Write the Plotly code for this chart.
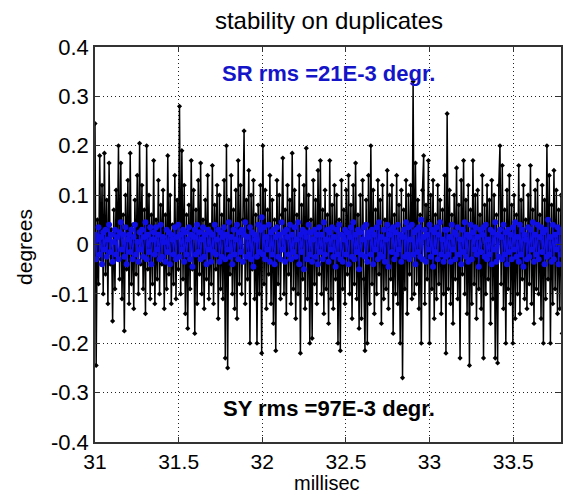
import numpy as np
import plotly.graph_objects as go

# ---- data ----
t_start_ms = 31.0
t_end_ms = 33.8

sy_values = [
    0.245, -0.245, 0.05, -0.08, 0.18, -0.03, 0.12, -0.1, 0.185, -0.06,
    0.09, -0.12, 0.165, -0.04, 0.03, -0.155, 0.07, -0.09, 0.11, -0.02,
    0.2, -0.07, 0.165, -0.11, 0.06, -0.175, 0.1, -0.05, 0.13, -0.12,
    0.185, -0.08, 0.04, -0.13, 0.09, -0.06, 0.14, -0.1, 0.205, -0.04,
    0.12, -0.09, 0.07, -0.14, 0.2, -0.05, 0.1, -0.11, 0.06, -0.08,
    0.17, -0.12, 0.05, -0.07, 0.13, -0.1, 0.08, -0.04, 0.11, -0.13,
    0.06, -0.09, 0.18, -0.06, 0.1, -0.12, 0.04, -0.08, 0.14, -0.11,
    0.09, -0.05, 0.28, -0.1, 0.19, -0.07, 0.12, -0.14, 0.06, -0.17,
    0.08, -0.09, 0.17, -0.05, 0.11, -0.18, 0.07, -0.12, 0.13, -0.06,
    0.165, -0.1, 0.05, -0.13, 0.09, -0.07, 0.14, -0.11, 0.04, -0.08,
    0.16, -0.12, 0.08, -0.05, 0.12, -0.15, 0.1, -0.09, 0.06, -0.11,
    0.13, -0.23, 0.2, -0.25, 0.09, -0.06, 0.14, -0.1, 0.07, -0.13,
    0.11, -0.15, 0.17, -0.08, 0.12, -0.1, 0.05, 0.23, -0.12, 0.09,
    -0.07, 0.15, -0.2, 0.1, -0.05, 0.13, -0.11, 0.06, -0.2, 0.08,
    -0.1, 0.12, -0.22, 0.2, -0.08, 0.11, -0.13, 0.07, -0.06, 0.14,
    -0.12, 0.09, -0.16, 0.05, -0.215, 0.13, -0.08, 0.1, -0.11, 0.06,
    0.175, -0.1, 0.07, -0.14, 0.12, -0.06, 0.09, -0.12, 0.185, -0.09,
    0.11, -0.15, 0.06, -0.1, 0.14, -0.22, 0.08, -0.07, 0.12, -0.13,
    0.195, -0.11, 0.1, -0.2, 0.05, -0.19, 0.13, -0.08, 0.09, -0.12,
    0.15, -0.06, 0.17, -0.1, 0.07, -0.14, 0.11, -0.09, 0.06, -0.16,
    0.17, -0.11, 0.08, -0.13, 0.12, -0.07, 0.1, -0.2, 0.05, -0.215,
    0.13, -0.09, 0.07, -0.12, 0.11, -0.06, 0.14, -0.1, 0.08, -0.15,
    0.12, -0.08, 0.165, -0.11, 0.06, -0.17, 0.1, -0.15, 0.13, -0.07,
    -0.215, 0.09, -0.2, 0.14, -0.12, 0.2, -0.08, 0.11, -0.14, 0.07,
    -0.1, 0.13, -0.06, 0.09, -0.16, 0.12, -0.11, 0.05, -0.09, 0.15,
    -0.13, 0.1, -0.07, 0.12, -0.18, 0.06, -0.1, 0.14, -0.12, 0.08,
    -0.2, 0.11, -0.27, 0.07, -0.09, 0.13, -0.14, 0.1, -0.06, 0.12,
    -0.11, 0.33, -0.1, 0.165, -0.08, 0.09, -0.13, 0.06, -0.2, 0.11,
    0.18, -0.12, 0.08, -0.07, 0.17, -0.2, 0.1, -0.09, 0.13, -0.15,
    0.06, -0.11, 0.12, -0.08, 0.09, -0.14, 0.07, -0.1, 0.14, -0.22,
    0.265, -0.09, 0.11, -0.12, 0.06, -0.16, 0.1, -0.07, 0.155, -0.11,
    0.08, -0.23, 0.13, -0.06, 0.17, -0.1, 0.09, -0.14, 0.12, -0.245,
    0.07, -0.12, 0.17, -0.08, 0.1, -0.15, 0.11, -0.09, 0.06, -0.13,
    0.14, -0.23, 0.08, -0.1, 0.12, -0.07, 0.09, -0.16, 0.13, -0.11,
    0.1, -0.23, 0.06, -0.24, 0.12, 0.2, -0.08, 0.16, -0.13, 0.07,
    -0.2, 0.11, -0.09, 0.14, -0.12, 0.08, -0.2, 0.1, -0.15, 0.06,
    -0.1, 0.16, -0.14, 0.09, -0.07, 0.12, -0.11, 0.05, -0.13, 0.1,
    -0.08, 0.16, -0.12, 0.07, -0.16, 0.11, -0.09, 0.13, -0.1, 0.06,
    -0.15, 0.12, -0.2, 0.09, -0.11, 0.2, -0.07, 0.14, -0.2, 0.08,
    -0.12, 0.15, -0.09, 0.11, -0.14, 0.07, -0.13, 0.1, -0.18, 0.09,
]

sr_values = [
    0.02, -0.03, 0.01, 0.035, -0.02, 0.015, -0.04, 0.025, -0.01, 0.03,
    -0.025, 0.01, 0.04, -0.015, 0.02, -0.035, 0.005, 0.03, -0.02, 0.015,
    -0.03, 0.025, 0.045, -0.01, 0.02, -0.025, 0.035, -0.04, 0.01, 0.02,
    -0.015, 0.03, -0.03, 0.015, 0.04, -0.02, 0.005, -0.035, 0.025, -0.01,
    0.03, -0.025, 0.015, 0.045, -0.03, 0.02, -0.015, 0.035, -0.04, 0.01,
    0.025, -0.02, 0.035, -0.01, 0.02, -0.03, 0.04, -0.025, 0.015, 0.005,
    -0.035, 0.03, -0.015, 0.025, -0.04, 0.02, 0.01, -0.02, 0.035, -0.03,
    0.015, 0.04, -0.025, 0.02, -0.01, 0.03, -0.035, 0.025, -0.02, 0.01,
    0.035, -0.03, 0.02, -0.045, 0.015, 0.03, -0.02, 0.04, -0.015, 0.025,
    -0.03, 0.01, 0.035, -0.025, 0.02, -0.04, 0.03, -0.01, 0.025, -0.035,
    0.02, -0.015, 0.04, -0.02, 0.01, 0.03, -0.035, 0.025, -0.025, 0.015,
    0.035, -0.03, 0.02, -0.01, 0.045, -0.025, 0.015, -0.04, 0.03, -0.02,
    0.01, 0.04, -0.03, 0.025, -0.015, 0.03, -0.035, 0.02, 0.045, -0.025,
    0.015, -0.02, 0.035, -0.03, 0.025, -0.045, 0.02, 0.01, -0.025, 0.04,
    -0.015, 0.03, 0.055, -0.02, 0.035, -0.03, 0.015, -0.01, 0.04, -0.035,
    0.025, -0.02, 0.03, -0.04, 0.015, 0.035, -0.025, 0.02, -0.03, 0.045,
    -0.01, 0.025, -0.035, 0.03, 0.015, -0.02, 0.04, -0.03, 0.02, -0.015,
    0.035, -0.025, 0.01, 0.045, -0.04, 0.02, -0.015, 0.03, -0.05, 0.025,
    0.015, -0.03, 0.04, -0.02, 0.025, -0.035, 0.01, 0.03, -0.025, 0.02,
    -0.04, 0.035, -0.015, 0.02, -0.03, 0.045, -0.02, 0.01, 0.03, -0.035,
    0.025, -0.01, 0.035, -0.025, 0.015, -0.045, 0.03, -0.02, 0.04, -0.03,
    0.02, -0.035, 0.01, 0.03, -0.02, 0.025, -0.04, 0.015, 0.035, -0.025,
    0.045, -0.03, 0.02, -0.015, 0.03, -0.05, 0.025, -0.02, 0.01, 0.035,
    -0.025, 0.04, -0.035, 0.015, 0.025, -0.02, 0.03, -0.04, 0.02, -0.01,
    0.035, -0.03, 0.045, -0.02, 0.015, -0.025, 0.03, -0.035, 0.01, 0.04,
    -0.045, 0.02, 0.03, -0.015, 0.035, -0.03, 0.025, -0.02, 0.04, -0.01,
    0.02, -0.035, 0.015, 0.03, -0.025, 0.045, -0.02, 0.035, -0.03, 0.01,
    0.04, -0.02, 0.025, -0.04, 0.03, -0.015, 0.035, -0.025, 0.05, -0.03,
    0.015, 0.03, -0.035, 0.02, -0.01, 0.04, -0.025, 0.03, -0.045, 0.025,
    -0.015, 0.035, -0.03, 0.02, 0.045, -0.02, 0.01, -0.035, 0.03, -0.025,
    0.03, -0.02, 0.015, -0.035, 0.04, -0.01, 0.025, -0.03, 0.02, 0.035,
    -0.02, 0.01, -0.04, 0.03, -0.015, 0.045, -0.025, 0.02, -0.035, 0.015,
    0.04, -0.03, 0.025, -0.01, 0.035, -0.02, 0.015, -0.045, 0.03, -0.015,
    0.02, 0.035, -0.025, 0.04, -0.03, 0.01, -0.02, 0.03, -0.04, 0.025,
    -0.01, 0.045, -0.035, 0.02, -0.025, 0.03, 0.015, -0.03, 0.04, -0.02,
    0.025, -0.04, 0.03, -0.015, 0.02, -0.03, 0.035, -0.01, 0.045, -0.025,
    0.015, -0.035, 0.04, -0.02, 0.03, -0.045, 0.02, 0.01, -0.03, 0.035,
    -0.025, 0.03, -0.01, 0.045, -0.035, 0.02, -0.02, 0.04, -0.03, 0.015,
    0.035, -0.015, 0.025, -0.04, 0.03, -0.025, 0.05, -0.02, 0.015, -0.035,
    0.04, -0.03, 0.02, -0.01, 0.035, -0.04, 0.025, -0.02, 0.03, -0.015,
]

x_tick_vals = [31, 31.5, 32, 32.5, 33, 33.5]
x_tick_text = ["31", "31.5", "32", "32.5", "33", "33.5"]
y_tick_vals = [-0.4, -0.3, -0.2, -0.1, 0, 0.1, 0.2, 0.3, 0.4]
y_tick_text = ["-0.4", "-0.3", "-0.2", "-0.1", "0", "0.1", "0.2", "0.3", "0.4"]

title_text = "stability on duplicates"
x_label = "millisec"
y_label = "degrees"
sr_label = "SR rms =21E-3 degr."
sy_label = "SY rms =97E-3 degr."

# sample times (uniform sampling)
t_sy = np.linspace(t_start_ms, t_end_ms, len(sy_values))
t_sr = np.linspace(t_start_ms, t_end_ms, len(sr_values))

FONT = "Liberation Sans, Arial, sans-serif"
BLUE = "#1010e6"

fig = go.Figure()
fig.add_trace(go.Scatter(
    x=t_sy, y=sy_values, mode="lines+markers",
    line=dict(color="black", width=1.5),
    marker=dict(symbol="diamond", size=4, color="black"),
    showlegend=False, hoverinfo="skip",
))
fig.add_trace(go.Scatter(
    x=t_sr, y=sr_values, mode="lines+markers",
    line=dict(color=BLUE, width=1.2),
    marker=dict(symbol="circle", size=6, color=BLUE),
    showlegend=False, hoverinfo="skip",
))

axis_common = dict(
    showline=True, linecolor="#333333", linewidth=1.5, mirror="ticks",
    ticks="inside", ticklen=5, tickcolor="#333333",
    showgrid=True, gridcolor="#222222", griddash="1px,3px", gridwidth=1,
    zeroline=False,
)

fig.update_layout(
    width=563, height=496,
    margin=dict(l=95, r=0, t=47, b=54),
    paper_bgcolor="white", plot_bgcolor="white",
    title=dict(text=title_text, xref="container", x=329/563, xanchor="center",
               yref="container", y=1 - 21/496, yanchor="middle",
               font=dict(family=FONT, size=24, color="black")),
    xaxis=dict(range=[31, 33.786], tickvals=x_tick_vals, ticktext=x_tick_text,
               tickfont=dict(family=FONT, size=21, color="black"),
               **axis_common),
    yaxis=dict(range=[-0.4, 0.4], tickvals=y_tick_vals, ticktext=y_tick_text,
               tickfont=dict(family=FONT, size=22, color="black"),
               **axis_common),
    annotations=[
        dict(text=sr_label, xref="paper", yref="paper", x=0.502, y=0.932,
             xanchor="center", yanchor="middle", showarrow=False,
             font=dict(family=FONT, size=22, color="#1414c8", weight="bold")),
        dict(text=sy_label, xref="paper", yref="paper", x=0.502, y=0.084,
             xanchor="center", yanchor="middle", showarrow=False,
             font=dict(family=FONT, size=22, color="black", weight="bold")),
        dict(text=x_label, xref="paper", yref="paper", x=0.498, y=-0.104,
             xanchor="center", yanchor="middle", showarrow=False,
             font=dict(family=FONT, size=20, color="black")),
        dict(text=y_label, xref="paper", yref="paper", x=-0.15, y=0.494,
             xanchor="center", yanchor="middle", showarrow=False, textangle=-90,
             font=dict(family=FONT, size=21, color="black")),
    ],
)

fig.write_html(
    "out.html",
    config={"displayModeBar": False},
    post_script="document.body.style.margin='0';document.body.style.overflow='hidden';",
)
